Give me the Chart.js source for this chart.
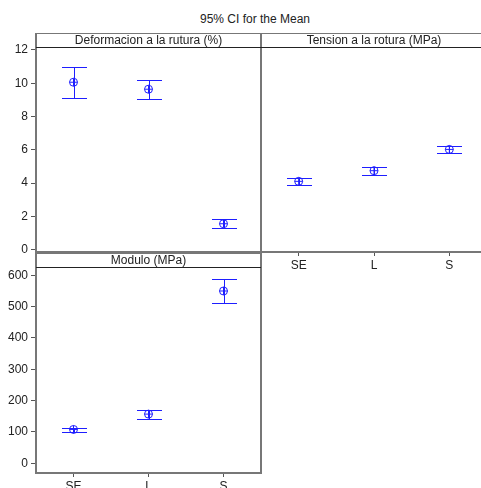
<!DOCTYPE html>
<html>
<head>
<meta charset="utf-8">
<script src="https://cdn.jsdelivr.net/npm/chart.js@4.4.1/dist/chart.umd.min.js"></script>
<style>
	html, body { margin: 0; padding: 0; background: #fff; overflow: hidden; width: 481px; height: 488px; }
	.panel { position: absolute; }
	#title { position: absolute; left: 155px; width: 200px; top: 12px; text-align: center; font: 12px "Liberation Sans", sans-serif; color: #222; }
</style>
</head>
<body>
<div id="title">95% CI for the Mean</div>
<div class="panel" style="left:0;top:33px;width:262px;height:220px"><canvas id="deform"></canvas></div>
<div class="panel" style="left:261px;top:33px;width:226px;height:250px"><canvas id="tension"></canvas></div>
<div class="panel" style="left:0;top:252px;width:262px;height:236px"><canvas id="modulo"></canvas></div>
<script>
// groups on the x axis
const groups = ["SE", "L", "S"]

// Deformacion a la rutura (%)
const deformMean = [10.06, 9.64, 1.55]
const deformLower = [9.10, 9.06, 1.27]
const deformUpper = [11.00, 10.22, 1.81]
const deformTicks = [0, 2, 4, 6, 8, 10, 12]

// Tension a la rotura (MPa), same y scale as the row
const tensionMean = [4.10, 4.74, 6.02]
const tensionLower = [3.86, 4.50, 5.80]
const tensionUpper = [4.30, 4.96, 6.25]

// Modulo (MPa)
const moduloMean = [108, 157, 550]
const moduloLower = [99, 142, 513]
const moduloUpper = [114, 171, 589]
const moduloTicks = [0, 100, 200, 300, 400, 500, 600]

const BLUE = "rgb(30,30,255)"
const FONT = "'Liberation Sans', Arial, sans-serif"
const HEADER = 14

const panelFrame = {
	id: "panelFrame",
	afterDatasetsDraw(chart, args, opts) {
		const { ctx, scales } = chart
		const x = scales.x
		const y = scales.y
		ctx.save()
		ctx.strokeStyle = BLUE
		ctx.lineWidth = 1
		opts.lower.forEach((lo, i) => {
			const px = Math.round(x.getPixelForValue(i)) + 0.5
			const yl = Math.round(y.getPixelForValue(lo)) + 0.5
			const yu = Math.round(y.getPixelForValue(opts.upper[i])) + 0.5
			ctx.beginPath()
			ctx.moveTo(px, yl)
			ctx.lineTo(px, yu)
			ctx.moveTo(px - 12.5, yl)
			ctx.lineTo(px + 12.5, yl)
			ctx.moveTo(px - 12.5, yu)
			ctx.lineTo(px + 12.5, yu)
			ctx.stroke()
		})
		ctx.restore()
	},
	afterDraw(chart, args, opts) {
		const { ctx, chartArea: a } = chart
		ctx.save()
		ctx.strokeStyle = "#777"
		ctx.lineWidth = 2
		ctx.strokeRect(a.left, a.top - HEADER, a.right - a.left, a.bottom - a.top + HEADER)
		ctx.strokeStyle = "#222"
		ctx.lineWidth = 1
		ctx.beginPath()
		ctx.moveTo(a.left, a.top + 0.5)
		ctx.lineTo(a.right, a.top + 0.5)
		ctx.stroke()
		ctx.fillStyle = "#222"
		ctx.font = "12px " + FONT
		ctx.textAlign = "center"
		ctx.textBaseline = "middle"
		ctx.fillText(opts.header, (a.left + a.right) / 2, a.top - HEADER / 2 + 1)
		ctx.restore()
	}
}

// keep label overflow from shrinking the plot area
function noPadding(scale) {
	scale.paddingTop = 0
	scale.paddingBottom = 0
	scale.paddingLeft = 0
	scale.paddingRight = 0
}

function makePanel(id, cfg) {
	const points = cfg.mean.map((v, i) => ({ x: i, y: v }))
	return new Chart(document.getElementById(id), {
		type: "scatter",
		data: {
			datasets: [
				{ data: points, pointStyle: "circle", pointRadius: 4, borderColor: BLUE, backgroundColor: "rgba(0,0,0,0)", borderWidth: 1 },
				{ data: points, pointStyle: "cross", pointRadius: 4, borderColor: BLUE, borderWidth: 1 }
			]
		},
		options: {
			responsive: true,
			maintainAspectRatio: false,
			animation: false,
			events: [],
			layout: { padding: cfg.padding, autoPadding: false },
			plugins: {
				legend: { display: false },
				tooltip: { enabled: false },
				panelFrame: { header: cfg.header, lower: cfg.lower, upper: cfg.upper }
			},
			scales: {
				x: {
					type: "linear",
					min: -0.5,
					max: 2.5,
					afterBuildTicks: (scale) => { scale.ticks = groups.map((g, i) => ({ value: i })) },
					afterFit: (scale) => { scale.height = cfg.xHeight; noPadding(scale) },
					ticks: {
						display: cfg.showX,
						callback: (v) => groups[v],
						font: { family: FONT, size: 12 },
						color: "#222",
						padding: 2,
						maxRotation: 0
					},
					grid: { display: cfg.showX, drawOnChartArea: false, tickLength: 4, color: "#555" },
					border: { display: false }
				},
				y: {
					type: "linear",
					min: cfg.yMin,
					max: cfg.yMax,
					afterBuildTicks: (scale) => { scale.ticks = cfg.yTicks.map((v) => ({ value: v })) },
					afterFit: (scale) => { scale.width = cfg.showY ? 36 : 0; noPadding(scale) },
					ticks: {
						display: cfg.showY,
						font: { family: FONT, size: 12 },
						color: "#222",
						padding: 3
					},
					grid: { display: cfg.showY, drawOnChartArea: false, tickLength: 5, color: "#555" },
					border: { display: false }
				}
			}
		},
		plugins: [panelFrame]
	})
}

makePanel("deform", {
	header: "Deformacion a la rutura (%)",
	mean: deformMean, lower: deformLower, upper: deformUpper,
	yMin: -0.15, yMax: 12.18, yTicks: deformTicks,
	showX: false, showY: true, xHeight: 0,
	padding: { top: HEADER, right: 1, bottom: 1, left: 0 }
})

makePanel("tension", {
	header: "Tension a la rotura (MPa)",
	mean: tensionMean, lower: tensionLower, upper: tensionUpper,
	yMin: -0.15, yMax: 12.18, yTicks: deformTicks,
	showX: true, showY: false, xHeight: 31,
	padding: { top: HEADER, right: 0, bottom: 0, left: 0 }
})

makePanel("modulo", {
	header: "Modulo (MPa)",
	mean: moduloMean, lower: moduloLower, upper: moduloUpper,
	yMin: -31, yMax: 626.6, yTicks: moduloTicks,
	showX: true, showY: true, xHeight: 15,
	padding: { top: HEADER + 1, right: 1, bottom: 0, left: 0 }
})
</script>
</body>
</html>
